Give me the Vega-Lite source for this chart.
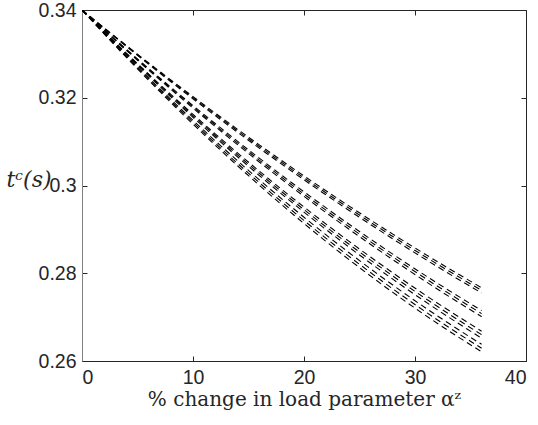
{
  "$schema": "https://vega.github.io/schema/vega-lite/v6.json",
  "autosize": "none",
  "width": 444,
  "height": 351,
  "padding": {"left": 82, "top": 10, "right": 12, "bottom": 64},
  "background": "white",
  "config": {
    "view": {"stroke": "#262626", "strokeWidth": 1},
    "axis": {
      "labelFont": "Liberation Sans",
      "labelFontSize": 19.5,
      "labelColor": "#262626",
      "tickColor": "#262626",
      "domainColor": "#262626",
      "grid": false,
      "tickSize": -5,
      "titleFontWeight": "normal"
    }
  },
  "data": {
    "values": [
      {"run": 1, "x": 0, "y": 0.34}, {"run": 1, "x": 4, "y": 0.3319}, {"run": 1, "x": 8, "y": 0.32407}, {"run": 1, "x": 12, "y": 0.31651}, {"run": 1, "x": 16, "y": 0.30921}, {"run": 1, "x": 20, "y": 0.30218}, {"run": 1, "x": 24, "y": 0.29541}, {"run": 1, "x": 28, "y": 0.28891}, {"run": 1, "x": 32, "y": 0.28267}, {"run": 1, "x": 36, "y": 0.2767},
      {"run": 2, "x": 0, "y": 0.34}, {"run": 2, "x": 4, "y": 0.3318}, {"run": 2, "x": 8, "y": 0.32387}, {"run": 2, "x": 12, "y": 0.31622}, {"run": 2, "x": 16, "y": 0.30884}, {"run": 2, "x": 20, "y": 0.30174}, {"run": 2, "x": 24, "y": 0.29492}, {"run": 2, "x": 28, "y": 0.28837}, {"run": 2, "x": 32, "y": 0.2821}, {"run": 2, "x": 36, "y": 0.2761},
      {"run": 3, "x": 0, "y": 0.34}, {"run": 3, "x": 4, "y": 0.33169}, {"run": 3, "x": 8, "y": 0.32366}, {"run": 3, "x": 12, "y": 0.31592}, {"run": 3, "x": 16, "y": 0.30847}, {"run": 3, "x": 20, "y": 0.3013}, {"run": 3, "x": 24, "y": 0.29442}, {"run": 3, "x": 28, "y": 0.28783}, {"run": 3, "x": 32, "y": 0.28152}, {"run": 3, "x": 36, "y": 0.2755},
      {"run": 4, "x": 0, "y": 0.34}, {"run": 4, "x": 4, "y": 0.33104}, {"run": 4, "x": 8, "y": 0.32241}, {"run": 4, "x": 12, "y": 0.31412}, {"run": 4, "x": 16, "y": 0.30617}, {"run": 4, "x": 20, "y": 0.29856}, {"run": 4, "x": 24, "y": 0.29129}, {"run": 4, "x": 28, "y": 0.28435}, {"run": 4, "x": 32, "y": 0.27776}, {"run": 4, "x": 36, "y": 0.2715},
      {"run": 5, "x": 0, "y": 0.34}, {"run": 5, "x": 4, "y": 0.33091}, {"run": 5, "x": 8, "y": 0.32217}, {"run": 5, "x": 12, "y": 0.31378}, {"run": 5, "x": 16, "y": 0.30574}, {"run": 5, "x": 20, "y": 0.29805}, {"run": 5, "x": 24, "y": 0.29071}, {"run": 5, "x": 28, "y": 0.28373}, {"run": 5, "x": 32, "y": 0.27709}, {"run": 5, "x": 36, "y": 0.2708},
      {"run": 6, "x": 0, "y": 0.34}, {"run": 6, "x": 4, "y": 0.33078}, {"run": 6, "x": 8, "y": 0.32193}, {"run": 6, "x": 12, "y": 0.31344}, {"run": 6, "x": 16, "y": 0.30531}, {"run": 6, "x": 20, "y": 0.29754}, {"run": 6, "x": 24, "y": 0.29014}, {"run": 6, "x": 28, "y": 0.2831}, {"run": 6, "x": 32, "y": 0.27642}, {"run": 6, "x": 36, "y": 0.2701},
      {"run": 7, "x": 0, "y": 0.34}, {"run": 7, "x": 4, "y": 0.33017}, {"run": 7, "x": 8, "y": 0.32076}, {"run": 7, "x": 12, "y": 0.31178}, {"run": 7, "x": 16, "y": 0.30322}, {"run": 7, "x": 20, "y": 0.29509}, {"run": 7, "x": 24, "y": 0.28738}, {"run": 7, "x": 28, "y": 0.28009}, {"run": 7, "x": 32, "y": 0.27323}, {"run": 7, "x": 36, "y": 0.2668},
      {"run": 8, "x": 0, "y": 0.34}, {"run": 8, "x": 4, "y": 0.33002}, {"run": 8, "x": 8, "y": 0.32049}, {"run": 8, "x": 12, "y": 0.31139}, {"run": 8, "x": 16, "y": 0.30273}, {"run": 8, "x": 20, "y": 0.2945}, {"run": 8, "x": 24, "y": 0.28672}, {"run": 8, "x": 28, "y": 0.27938}, {"run": 8, "x": 32, "y": 0.27247}, {"run": 8, "x": 36, "y": 0.266},
      {"run": 9, "x": 0, "y": 0.34}, {"run": 9, "x": 4, "y": 0.32988}, {"run": 9, "x": 8, "y": 0.32021}, {"run": 9, "x": 12, "y": 0.311}, {"run": 9, "x": 16, "y": 0.30223}, {"run": 9, "x": 20, "y": 0.29392}, {"run": 9, "x": 24, "y": 0.28606}, {"run": 9, "x": 28, "y": 0.27865}, {"run": 9, "x": 32, "y": 0.2717}, {"run": 9, "x": 36, "y": 0.2652},
      {"run": 10, "x": 0, "y": 0.34}, {"run": 10, "x": 4, "y": 0.32958}, {"run": 10, "x": 8, "y": 0.31964}, {"run": 10, "x": 12, "y": 0.3102}, {"run": 10, "x": 16, "y": 0.30124}, {"run": 10, "x": 20, "y": 0.29277}, {"run": 10, "x": 24, "y": 0.2848}, {"run": 10, "x": 28, "y": 0.27731}, {"run": 10, "x": 32, "y": 0.27031}, {"run": 10, "x": 36, "y": 0.2638},
      {"run": 11, "x": 0, "y": 0.34}, {"run": 11, "x": 4, "y": 0.32938}, {"run": 11, "x": 8, "y": 0.31927}, {"run": 11, "x": 12, "y": 0.30967}, {"run": 11, "x": 16, "y": 0.30059}, {"run": 11, "x": 20, "y": 0.29203}, {"run": 11, "x": 24, "y": 0.28397}, {"run": 11, "x": 28, "y": 0.27644}, {"run": 11, "x": 32, "y": 0.26941}, {"run": 11, "x": 36, "y": 0.2629},
      {"run": 12, "x": 0, "y": 0.34}, {"run": 12, "x": 4, "y": 0.32919}, {"run": 12, "x": 8, "y": 0.31892}, {"run": 12, "x": 12, "y": 0.30919}, {"run": 12, "x": 16, "y": 0.29999}, {"run": 12, "x": 20, "y": 0.29134}, {"run": 12, "x": 24, "y": 0.28322}, {"run": 12, "x": 28, "y": 0.27564}, {"run": 12, "x": 32, "y": 0.2686}, {"run": 12, "x": 36, "y": 0.2621}
    ]
  },
  "layer": [
    {
      "mark": {"type": "line", "color": "black", "strokeWidth": 1.1, "strokeDash": [6, 4], "interpolate": "monotone", "clip": true},
      "encoding": {
        "x": {
          "field": "x", "type": "quantitative",
          "scale": {"domain": [0, 40], "nice": false, "zero": false},
          "axis": {
            "orient": "bottom", "values": [0, 10, 20, 30, 40], "format": "d",
            "labelPadding": 12,
            "title": "% change in load parameter αᶻ",
            "titleFont": "DejaVu Serif", "titleFontSize": 20, "titleColor": "#262626",
            "titlePadding": 3
          }
        },
        "y": {
          "field": "y", "type": "quantitative",
          "scale": {"domain": [0.26, 0.34], "nice": false, "zero": false},
          "axis": {
            "orient": "left", "values": [0.26, 0.28, 0.3, 0.32, 0.34], "format": "~g",
            "labelPadding": 11, "domainColor": "#808080",
            "title": "tᶜ(s)", "titleAngle": 0, "titleAlign": "left", "titleBaseline": "middle",
            "titleFont": "DejaVu Serif", "titleFontStyle": "italic", "titleFontSize": 22, "titleColor": "#262626",
            "titleX": -76, "titleY": 169
          }
        },
        "detail": {"field": "run", "type": "nominal"}
      }
    },
    {
      "mark": {"type": "line", "opacity": 0},
      "encoding": {
        "x": {"field": "x", "type": "quantitative", "axis": {"orient": "top", "values": [0, 10, 20, 30, 40], "labels": false, "title": null, "domain": false}},
        "y": {"field": "y", "type": "quantitative", "axis": {"orient": "right", "values": [0.26, 0.28, 0.3, 0.32, 0.34], "labels": false, "title": null, "domain": false}},
        "detail": {"field": "run", "type": "nominal"}
      }
    }
  ],
  "resolve": {"axis": {"x": "independent", "y": "independent"}}
}
